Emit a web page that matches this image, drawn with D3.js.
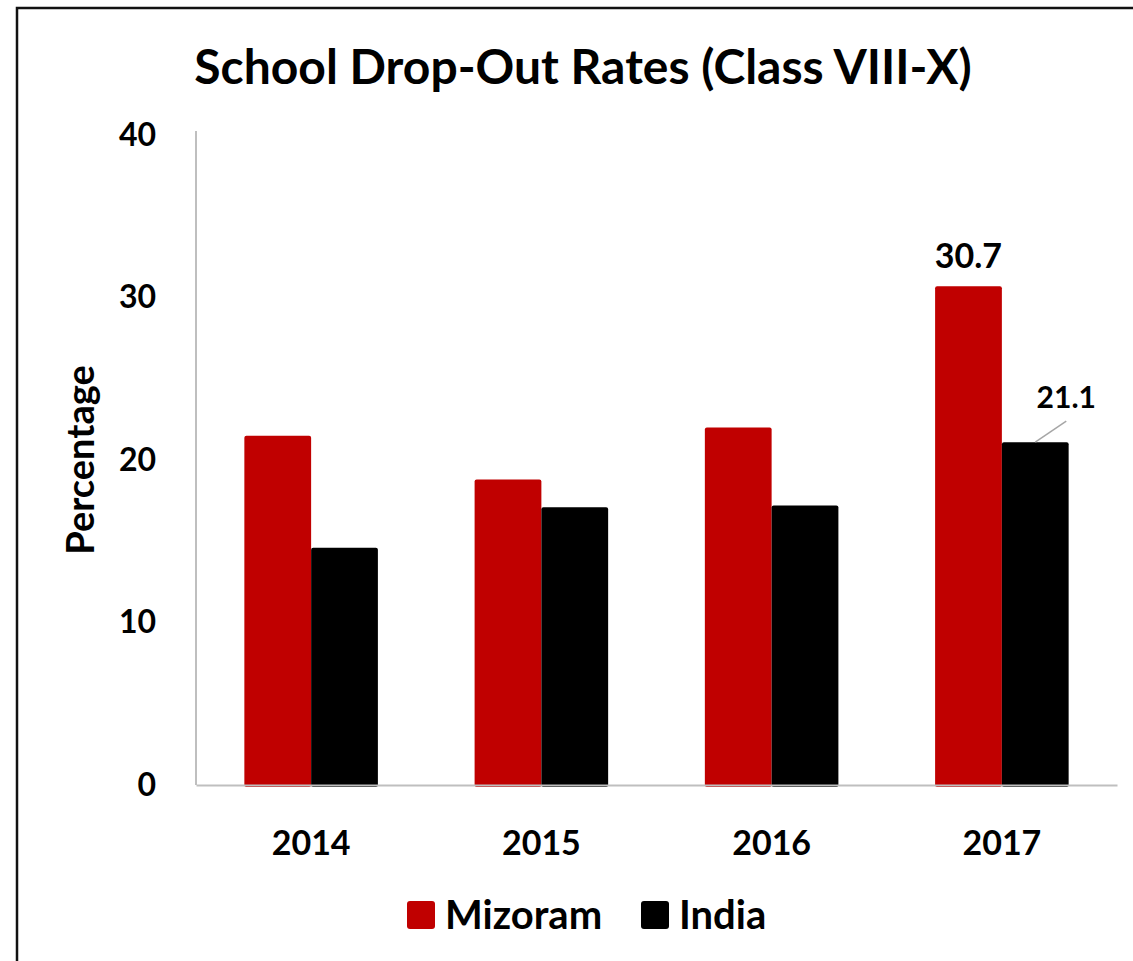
<!DOCTYPE html>
<html>
<head>
<meta charset="utf-8">
<script src="https://cdn.jsdelivr.net/npm/d3@7"></script>
<style>
  body { margin: 0; background: #fff; }
  text { font-family: Lato, "Open Sans", sans-serif; font-weight: bold; fill: #000; }
</style>
</head>
<body>
<div id="grafico"></div>
<script>
// dados do grafico
const anos = ["2014", "2015", "2016", "2017"];
const series = ["Mizoram", "India"];
const mizoram = [21.5, 18.8, 22.0, 30.7];
const india = [14.6, 17.1, 17.2, 21.1];
const ticksY = [0, 10, 20, 30, 40];
const cores = ["#c00000", "#000000"];

const largura = 1133;
const altura = 961;
const margem = { left: 196, right: 1117, top: 135, bottom: 785 };

const svg = d3.select("#grafico")
  .append("svg")
  .attr("width", largura)
  .attr("height", altura);

// moldura
svg.append("rect")
  .attr("x", 17).attr("y", 8)
  .attr("width", largura).attr("height", altura)
  .attr("fill", "none")
  .attr("stroke", "#111")
  .attr("stroke-width", 2.5);

// escalas
const x0 = d3.scaleBand().domain(anos).range([margem.left, margem.right]).paddingInner(0.42).paddingOuter(0.21);
const x1 = d3.scaleBand().domain(series).range([0, x0.bandwidth()]);
const y = d3.scaleLinear().domain([0, 40]).range([margem.bottom, margem.top]);
const cor = d3.scaleOrdinal().domain(series).range(cores);

const linhas = anos.map((a, i) => ({ ano: a, valores: [mizoram[i], india[i]] }));

// titulo
svg.append("text")
  .attr("x", 583).attr("y", 84)
  .attr("text-anchor", "middle")
  .style("font-size", "48px")
  .text("School Drop-Out Rates (Class VIII-X)");

// eixo y
const eixoY = svg.append("g")
  .attr("transform", `translate(${margem.left},0)`)
  .call(d3.axisLeft(y).tickValues(ticksY).tickSize(0).tickPadding(40));
eixoY.select(".domain").attr("stroke", "#bfbfbf").attr("stroke-width", 2).attr("d", `M0,${margem.top - 4}V${margem.bottom}`);
eixoY.selectAll("text").style("font-size", "32px").style("font-family", "Lato, sans-serif").attr("fill", "#000");

// barras
const grupos = svg.selectAll(".grupo")
  .data(linhas)
  .enter()
  .append("g")
  .attr("transform", d => `translate(${x0(d.ano)},0)`);

grupos.selectAll("rect")
  .data(d => d.valores.map((v, i) => ({ serie: series[i], valor: v })))
  .enter()
  .append("rect")
  .attr("x", d => x1(d.serie))
  .attr("y", d => y(d.valor))
  .attr("width", x1.bandwidth())
  .attr("height", d => y(0) - y(d.valor) + 2)
  .attr("rx", 2)
  .attr("fill", d => cor(d.serie));

// eixo x
const eixoX = svg.append("g")
  .attr("transform", `translate(0,${margem.bottom})`)
  .call(d3.axisBottom(x0).tickSize(0).tickPadding(46));
eixoX.select(".domain").attr("stroke", "#bfbfbf").attr("stroke-width", 2);
eixoX.selectAll("text").style("font-size", "34px").style("font-family", "Lato, sans-serif").attr("fill", "#000");

// rotulos de valor 2017
const ult = anos.length - 1;
svg.append("text")
  .attr("x", x0(anos[ult]) + x1("Mizoram") + x1.bandwidth() / 2)
  .attr("y", y(mizoram[ult]) - 18)
  .attr("text-anchor", "middle")
  .style("font-size", "34px")
  .text(mizoram[ult].toFixed(1));

const xIndia = x0(anos[ult]) + x1("India") + x1.bandwidth() / 2;
svg.append("line")
  .attr("x1", xIndia).attr("y1", y(india[ult]))
  .attr("x2", xIndia + 31).attr("y2", y(india[ult]) - 21)
  .attr("stroke", "#a6a6a6").attr("stroke-width", 1.5);
svg.append("text")
  .attr("x", xIndia + 31)
  .attr("y", y(india[ult]) - 34)
  .attr("text-anchor", "middle")
  .style("font-size", "30px")
  .text(india[ult].toFixed(1));

// titulo do eixo y
svg.append("text")
  .attr("transform", "translate(94,460) rotate(-90)")
  .attr("text-anchor", "middle")
  .style("font-size", "38px")
  .text("Percentage");

// legenda
const legenda = svg.append("g").attr("transform", "translate(407,901)");
const posLeg = [0, 234];
series.forEach((s, i) => {
  const g = legenda.append("g").attr("transform", `translate(${posLeg[i]},0)`);
  g.append("rect").attr("width", 28).attr("height", 28).attr("rx", 3).attr("fill", cor(s));
  g.append("text").attr("x", 38).attr("y", 28).style("font-size", "40px").text(s);
});
</script>
</body>
</html>
